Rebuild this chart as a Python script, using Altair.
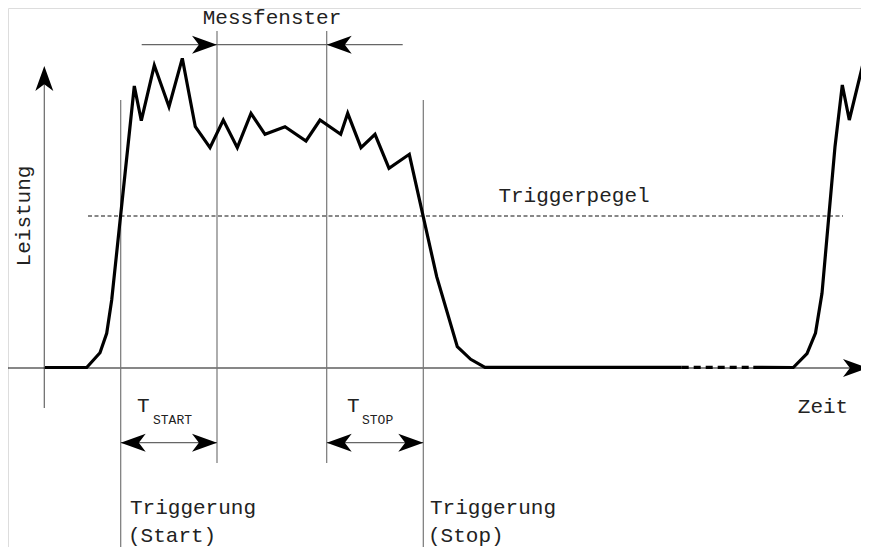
import altair as alt
import pandas as pd

# ---- Pulse curve (time t, power p) ----
pulse1_t = [45, 86.7, 100, 106.7, 111.7, 134.3, 141.3, 154.3, 169, 182.3, 195.3, 210, 223.3,
            237.3, 251, 265, 285, 306, 320, 340.7, 347.7, 361, 375, 389, 409.3, 436.7,
            457.3, 470.7, 485, 681.7]
pulse1_p = [0.5, 0.5, 15.3, 34.7, 68, 282, 247.3, 302.7, 261.3, 309.7, 241.3, 220.3, 248,
            220.3, 254.7, 233.7, 241.3, 227, 248, 233.7, 254.7, 220.3, 233.7, 199.7, 213.7, 91.3,
            21.3, 8.7, 0.7, 0.7]
gap_t = [681.7, 753.3]
gap_p = [0.7, 0.7]
pulse2_t = [753.3, 793.3, 807, 815.5, 822, 835, 842.3, 849.3, 862.7, 869]
pulse2_p = [0.7, 0.5, 14.5, 35, 74.7, 221.3, 283, 248, 303, 284]

trigger_level = 152
trigger_start = 120.7
trigger_stop = 423.3
window_start = 217
window_stop = 326.7

# Thin guide lines: x1, x2, p1, p2
guide_x1 = [44.3, 3, trigger_start, window_start, window_stop, trigger_stop, 141.7, trigger_start, window_stop]
guide_x2 = [44.3, 855, trigger_start, window_start, window_stop, trigger_stop, 402.7, window_start, trigger_stop]
guide_p1 = [-40, 0, 268, 337, 337, 268, 323.3, -74.7, -74.7]
guide_p2 = [290, 0, -187, -95, -95, -187, 323.3, -74.7, -74.7]
guide_col = ["#666", "#111", "#777", "#777", "#777", "#777", "#666", "#666", "#666"]

# Arrow heads: tip position and direction angle
arrow_t = [44.3, 868, window_start, window_stop, trigger_start, window_start, window_stop, trigger_stop]
arrow_p = [302, 0, 323.3, 323.3, -74.7, -74.7, -74.7, -74.7]
arrow_angle = [270, 0, 0, 180, 180, 0, 180, 0]

# Labels
label_text = ["Messfenster", "Triggerpegel", "Zeit", "Triggerung", "(Start)", "Triggerung", "(Stop)", "T", "T"]
label_t = [272, 574, 823, 130, 128, 430, 428, 137, 347]
label_p = [344, 166, -45, -146, -174, -146, -174, -44, -44]
label_align = ["center", "center", "center", "left", "left", "left", "left", "left", "left"]

sub_text = ["START", "STOP"]
sub_t = [153, 362]
sub_p = [-56, -56]

XS = alt.Scale(domain=[8, 861], nice=False, zero=False)
YS = alt.Scale(domain=[-179, 360], nice=False, zero=False)
FONT = "Liberation Mono"

curve = pd.DataFrame({
    "t": pulse1_t + pulse2_t,
    "p": pulse1_p + pulse2_p,
    "seg": ["a"] * len(pulse1_t) + ["b"] * len(pulse2_t),
    "o": list(range(len(pulse1_t))) + list(range(len(pulse2_t))),
})
gap = pd.DataFrame({"t": gap_t, "p": gap_p})
guides = pd.DataFrame({"x1": guide_x1, "x2": guide_x2, "p1": guide_p1, "p2": guide_p2, "c": guide_col})
arrows = pd.DataFrame({"t": arrow_t, "p": arrow_p, "a": arrow_angle})
labels = pd.DataFrame({"text": label_text, "t": label_t, "p": label_p, "align": label_align})
subs = pd.DataFrame({"text": sub_text, "t": sub_t, "p": sub_p})

x_enc = lambda f: alt.X(f, type="quantitative", scale=XS, axis=None)
y_enc = lambda f: alt.Y(f, type="quantitative", scale=YS, axis=None)

guide_layer = alt.Chart(guides).mark_rule(strokeWidth=1.2).encode(
    x=x_enc("x1"), x2="x2", y=y_enc("p1"), y2="p2",
    color=alt.Color("c:N", scale=None),
)

trigger_layer = alt.Chart(pd.DataFrame({"p": [trigger_level], "x1": [88], "x2": [843]})).mark_rule(
    strokeWidth=1.2, strokeDash=[4, 2.5], color="#111"
).encode(x=x_enc("x1"), x2="x2", y=y_enc("p"))

curve_layer = alt.Chart(curve).mark_line(color="black", strokeWidth=3.2, strokeJoin="miter").encode(
    x=x_enc("t"), y=y_enc("p"), detail="seg:N", order="o:Q"
)

gap_layer = alt.Chart(gap).mark_line(color="black", strokeWidth=3.2, strokeDash=[7, 5]).encode(
    x=x_enc("t"), y=y_enc("p")
)

arrow_shape = "M0,0 L-2,-0.72 L-1.45,0 L-2,0.72 Z"
arrow_layer = alt.Chart(arrows).mark_point(
    shape=arrow_shape, size=625, filled=True, color="black", opacity=1, strokeWidth=0
).encode(x=x_enc("t"), y=y_enc("p"), angle=alt.Angle("a:Q", scale=None))

text_left = alt.Chart(labels[labels["align"] == "left"]).mark_text(
    font=FONT, fontSize=21, align="left", baseline="alphabetic", color="#222"
).encode(x=x_enc("t"), y=y_enc("p"), text="text:N")

text_center = alt.Chart(labels[labels["align"] == "center"]).mark_text(
    font=FONT, fontSize=21, align="center", baseline="alphabetic", color="#222"
).encode(x=x_enc("t"), y=y_enc("p"), text="text:N")

sub_layer = alt.Chart(subs).mark_text(
    font=FONT, fontSize=13, align="left", baseline="alphabetic", color="#222"
).encode(x=x_enc("t"), y=y_enc("p"), text="text:N")

leistung = alt.Chart(pd.DataFrame({"text": ["Leistung"], "t": [24], "p": [152]})).mark_text(
    font=FONT, fontSize=21, align="center", baseline="middle", angle=270, color="#222"
).encode(x=x_enc("t"), y=y_enc("p"), text="text:N")

chart = alt.layer(
    guide_layer, trigger_layer, curve_layer, gap_layer, arrow_layer,
    text_left, text_center, sub_layer, leistung
).properties(
    width=853, height=539, padding=0,
    autosize=alt.AutoSizeParams(type="none"),
).configure_view(stroke=None).configure(background="white")

chart.save("out.html", embed_options={"renderer": "svg", "actions": False})
